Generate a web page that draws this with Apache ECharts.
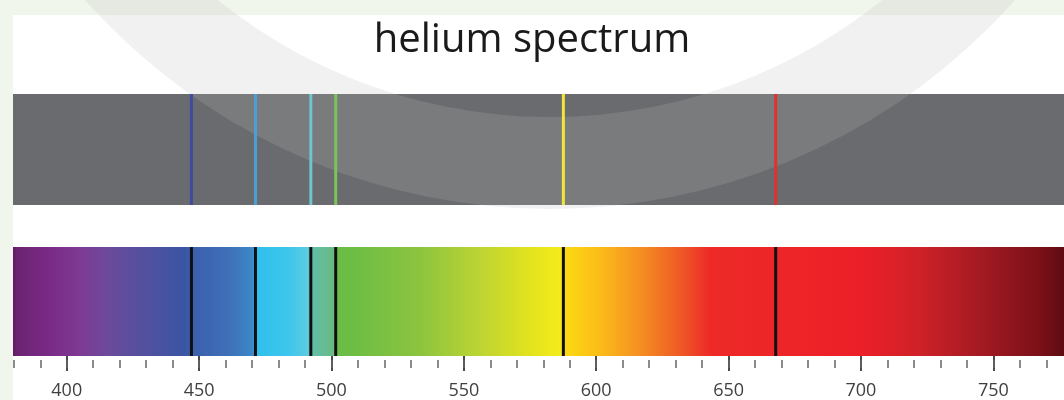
<!DOCTYPE html>
<html><head><meta charset="utf-8">
<script src="https://cdn.jsdelivr.net/npm/echarts@6/dist/echarts.min.js"></script>
<style>html,body{margin:0;padding:0;background:#f1f6ec}#c{width:1064px;height:400px}</style>
</head><body><div id="c"></div>
<script>
// ---- data ----
const titleText = 'helium spectrum';
const wavelengthMin = 379.7;
const wavelengthMax = 776.7;
const lineWavelengths = [447.1, 471.3, 492.2, 501.6, 587.6, 667.8];
const emissionColors = ['#3f4ba0', '#4b9fd8', '#6cc5cf', '#7cc35a', '#f2e53a', '#e3302f'];
const majorTicks = [400, 450, 500, 550, 600, 650, 700, 750];
const minorTicks = [380, 390, 400, 410, 420, 430, 440, 450, 460, 470, 480, 490, 500, 510, 520, 530, 540, 550, 560, 570,
  580, 590, 600, 610, 620, 630, 640, 650, 660, 670, 680, 690, 700, 710, 720, 730, 740, 750, 760, 770];
const spectrumWavelengths = [379.7, 381.0, 393.6, 405.0, 416.0, 431.0, 444.6, 448.0, 461.6, 469.0, 471.4, 471.8, 484.0, 491.0,
  492.5, 500.5, 501.8, 507.0, 533.4, 556.0, 575.0, 586.0, 588.6, 601.5, 616.6, 631.7, 643.0, 700.0, 722.0, 745.0, 767.8, 776.7];
const spectrumColors = ['#5e1a63', '#6b2370', '#7a2a88', '#7e3a93', '#6b4a9c', '#4f519f', '#3a55a3', '#3c5fae', '#3f70b8', '#3b85c6', '#3d8fcc', '#2fc0ec', '#3ec6ec', '#5ccbe0',
  '#60c0aa', '#6ab985', '#6abf45', '#6bbd45', '#8cc43f', '#bcd433', '#e2e31d', '#f5eb1c', '#fcd813', '#fbbc18', '#f58f22', '#ee5a25', '#ed2a27', '#ec1f28', '#cf2128', '#a41a22', '#7a1018', '#5e0b12'];

const bandRender = (fillFn) => (params, api) => {
  const a = api.coord([api.value(0), 1]);
  const b = api.coord([api.value(1), 0]);
  return { type: 'rect', shape: { x: a[0], y: a[1], width: b[0] - a[0], height: b[1] - a[1] }, style: { fill: fillFn() } };
};
const lineRender = (colorFn, w) => (params, api) => {
  const t = api.coord([api.value(0), 1]);
  const b = api.coord([api.value(0), 0]);
  return { type: 'rect', shape: { x: t[0] - w / 2, y: t[1], width: w, height: b[1] - t[1] }, style: { fill: colorFn(params.dataIndex) } };
};
const span = wavelengthMax - wavelengthMin;
const gradient = () => new echarts.graphic.LinearGradient(0, 0, 1, 0,
  spectrumWavelengths.map((w, i) => ({ offset: Math.min(1, Math.max(0, (w - wavelengthMin) / span)), color: spectrumColors[i] })));

const chart = echarts.init(document.getElementById('c'), null, { renderer: 'canvas' });
chart.setOption({
  backgroundColor: '#f1f6ec',
  animation: false,
  title: {
    text: titleText, left: 'center', top: 16,
    textStyle: { fontFamily: 'Open Sans', fontSize: 40, fontWeight: 'normal', color: '#1a1a1a' }
  },
  graphic: [
    { type: 'rect', z: -10, shape: { x: 13, y: 15, width: 1051, height: 385 }, style: { fill: '#ffffff' } },
    { type: 'ring', z: -5, shape: { cx: 550, cy: -413, r0: 530, r: 622 }, style: { fill: 'rgba(0,0,0,0.06)' } },
    { type: 'ring', z: 2, shape: { cx: 550, cy: -413, r0: 530, r: 622 }, style: { fill: 'rgba(255,255,255,0.11)' } }
  ],
  grid: [
    { left: 13, right: 0, top: 94, height: 111 },
    { left: 13, right: 0, top: 247, height: 110 }
  ],
  xAxis: [
    { gridIndex: 0, type: 'value', min: wavelengthMin, max: wavelengthMax, show: false },
    {
      gridIndex: 1, type: 'value', min: wavelengthMin, max: wavelengthMax, position: 'bottom', offset: 4,
      axisLine: { show: false }, splitLine: { show: false },
      axisTick: { show: true, customValues: majorTicks, length: 15, lineStyle: { color: '#4a4a4a', width: 2 } },
      axisLabel: { show: true, customValues: majorTicks, margin: 22, fontSize: 18, color: '#404040', fontFamily: 'Open Sans' }
    },
    {
      gridIndex: 1, type: 'value', min: wavelengthMin, max: wavelengthMax, position: 'bottom', offset: 4,
      axisLine: { show: false }, splitLine: { show: false },
      axisTick: { show: true, customValues: minorTicks, length: 8, lineStyle: { color: '#666', width: 1.5 } },
      axisLabel: { show: false }
    }
  ],
  yAxis: [
    { gridIndex: 0, type: 'value', min: 0, max: 1, show: false },
    { gridIndex: 1, type: 'value', min: 0, max: 1, show: false }
  ],
  series: [
    { type: 'custom', xAxisIndex: 0, yAxisIndex: 0, z: 1, silent: true, data: [[wavelengthMin, wavelengthMax]],
      renderItem: bandRender(() => '#6a6b6e') },
    { type: 'custom', xAxisIndex: 0, yAxisIndex: 0, z: 3, silent: true, data: lineWavelengths.map(w => [w]),
      renderItem: lineRender(i => emissionColors[i], 3) },
    { type: 'custom', xAxisIndex: 1, yAxisIndex: 1, z: 1, silent: true, data: [[wavelengthMin, wavelengthMax]],
      renderItem: bandRender(gradient) },
    { type: 'custom', xAxisIndex: 1, yAxisIndex: 1, z: 3, silent: true, data: lineWavelengths.map(w => [w]),
      renderItem: lineRender(() => '#111111', 3) }
  ]
});
</script></body></html>
